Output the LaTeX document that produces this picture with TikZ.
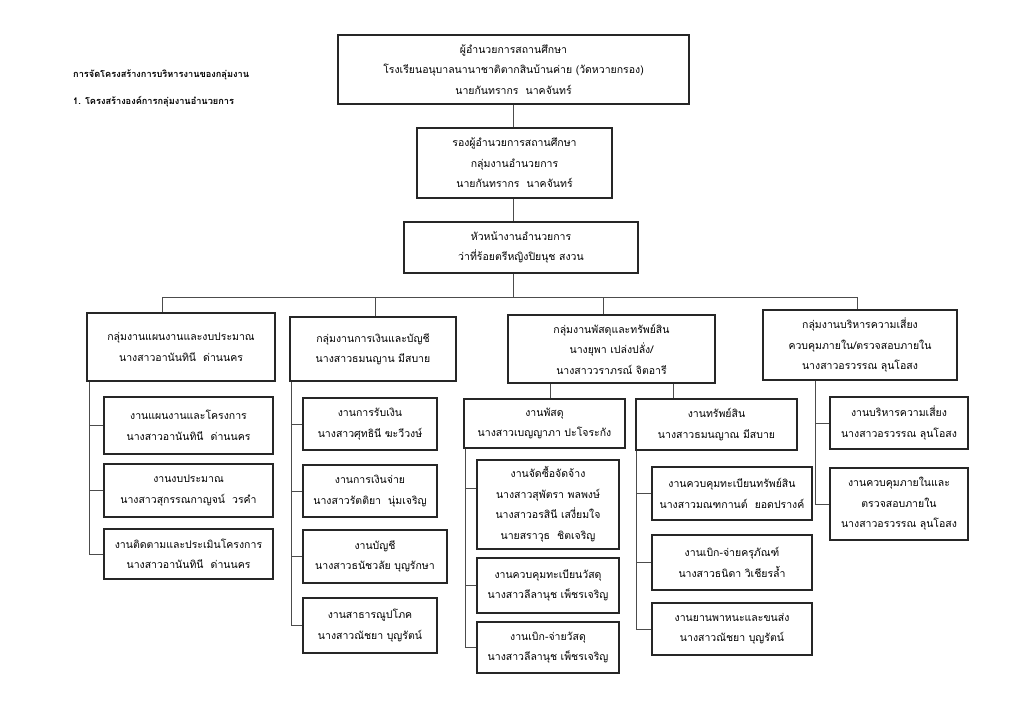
\documentclass[tikz,border=0pt]{standalone}
\usepackage{fontspec}
\newfontfamily\thai[Script=Thai]{Loma}
\begin{document}
\begin{tikzpicture}[x=1pt,y=-1pt,
  box/.style={draw=black!85, line width=1.1pt, inner sep=0pt, align=center,
    font=\thai\fontsize{10.5}{20.5}\selectfont},
  conn/.style={draw=black!70, line width=0.6pt},
  ttl/.style={anchor=west, inner sep=0pt, font=\thai\bfseries\fontsize{9.2}{11}\selectfont}]
\useasboundingbox[fill=white] (0,0) rectangle (1024,724);
% titles
\node[ttl] (t1) at (73,75) {การจัดโครงสร้างการบริหารงานของกลุ่มงาน};
\node[ttl] (t2) at (73,102) {1. โครงสร้างองค์การกลุ่มงานอำนวยการ};
% top levels
\node[box, minimum width=351, minimum height=69] (top) at (513.5,69.5)
  {ผู้อำนวยการสถานศึกษา\\โรงเรียนอนุบาลนานาชาติตากสินบ้านค่าย (วัดหวายกรอง)\\นายกันทรากร\ \ นาคจันทร์};
\node[box, minimum width=195, minimum height=70] (vice) at (514.5,163)
  {รองผู้อำนวยการสถานศึกษา\\กลุ่มงานอำนวยการ\\นายกันทรากร\ \ นาคจันทร์};
\node[box, minimum width=234, minimum height=51] (dir) at (521,247.5)
  {หัวหน้างานอำนวยการ\\ว่าที่ร้อยตรีหญิงปิยนุช สงวน};
% groups
\node[box, minimum width=188, minimum height=68] (g1) at (181,347)
  {กลุ่มงานแผนงานและงบประมาณ\\นางสาวอานันทินี\ \ ด่านนคร};
\node[box, minimum width=166, minimum height=64] (g2) at (373,349)
  {กลุ่มงานการเงินและบัญชี\\นางสาวธมนญาน มีสบาย};
\node[box, minimum width=207, minimum height=68] (g3) at (611.5,349)
  {กลุ่มงานพัสดุและทรัพย์สิน\\นางยุพา เปล่งปลั่ง/\\นางสาววราภรณ์ จิตอารี};
\node[box, minimum width=194, minimum height=70] (g4) at (860,345)
  {กลุ่มงานบริหารความเสี่ยง\\ควบคุมภายใน/ตรวจสอบภายใน\\นางสาวอรวรรณ ลุนโอสง};
% G1 subs
\node[box, minimum width=169, minimum height=57] (s11) at (188.5,425.5)
  {งานแผนงานและโครงการ\\นางสาวอานันทินี\ \ ด่านนคร};
\node[box, minimum width=169, minimum height=53] (s12) at (188.5,490.5)
  {งานงบประมาณ\\นางสาวสุกรรณกาญจน์\ \ วรคำ};
\node[box, minimum width=169, minimum height=50] (s13) at (188.5,554)
  {งานติดตามและประเมินโครงการ\\นางสาวอานันทินี\ \ ด่านนคร};
% G2 subs
\node[box, minimum width=134, minimum height=52] (s21) at (370,424)
  {งานการรับเงิน\\นางสาวศุทธินี ฆะวีวงษ์};
\node[box, minimum width=134, minimum height=52] (s22) at (370,491)
  {งานการเงินจ่าย\\นางสาวรัตติยา\ \ นุ่มเจริญ};
\node[box, minimum width=144, minimum height=53] (s23) at (375,556.5)
  {งานบัญชี\\นางสาวธนัชวลัย บุญรักษา};
\node[box, minimum width=134, minimum height=55] (s24) at (370,625.5)
  {งานสาธารณูปโภค\\นางสาวณัชยา บุญรัตน์};
% G3 left
\node[box, minimum width=161, minimum height=49] (p0) at (544.5,423.5)
  {งานพัสดุ\\นางสาวเบญญาภา ปะโจระกัง};
\node[box, minimum width=142, minimum height=89] (p1) at (548,504.5)
  {งานจัดซื้อจัดจ้าง\\นางสาวสุพัตรา พลพงษ์\\นางสาวอรสินี เสงี่ยมใจ\\นายสราวุธ\ \ ชิตเจริญ};
\node[box, minimum width=142, minimum height=55] (p2) at (548,585.5)
  {งานควบคุมทะเบียนวัสดุ\\นางสาวลีลานุช เพ็ชรเจริญ};
\node[box, minimum width=142, minimum height=51] (p3) at (548,647.5)
  {งานเบิก-จ่ายวัสดุ\\นางสาวลีลานุช เพ็ชรเจริญ};
% G3 right
\node[box, minimum width=161, minimum height=51] (q0) at (716.5,424.5)
  {งานทรัพย์สิน\\นางสาวธมนญาณ มีสบาย};
\node[box, minimum width=160, minimum height=53] (q1) at (732,493.5)
  {งานควบคุมทะเบียนทรัพย์สิน\\นางสาวมณฑกานต์\ \ ยอดปรางค์};
\node[box, minimum width=160, minimum height=55] (q2) at (732,562.5)
  {งานเบิก-จ่ายครุภัณฑ์\\นางสาวธนิดา วิเชียรล้ำ};
\node[box, minimum width=160, minimum height=52] (q3) at (732,629)
  {งานยานพาหนะและขนส่ง\\นางสาวณัชยา บุญรัตน์};
% G4 subs
\node[box, minimum width=138, minimum height=52] (r1) at (899,423)
  {งานบริหารความเสี่ยง\\นางสาวอรวรรณ ลุนโอสง};
\node[box, minimum width=138, minimum height=72] (r2) at (899,504)
  {งานควบคุมภายในและ\\ตรวจสอบภายใน\\นางสาวอรวรรณ ลุนโอสง};
% connectors top
\coordinate (bus) at (513,297);
\coordinate (b1) at (162,297);
\coordinate (b2) at (375,297);
\coordinate (b3) at (603,297);
\coordinate (b4) at (857,297);
\draw[conn] (top.south -| bus) -- (vice.north -| bus);
\draw[conn] (vice.south -| bus) -- (dir.north -| bus);
\draw[conn] (dir.south -| bus) -- (bus);
\draw[conn] (b1) -- (b4);
\draw[conn] (b1) -- (b1 |- g1.north);
\draw[conn] (b2) -- (b2 |- g2.north);
\draw[conn] (b3) -- (b3 |- g3.north);
\draw[conn] (b4) -- (b4 |- g4.north);
% G1 branch
\coordinate (v1) at (89,550);
\draw[conn] (v1 |- g1.south) -- (v1 |- s13.west);
\foreach \n in {s11,s12,s13} \draw[conn] (v1 |- \n.west) -- (\n.west);
% G2 branch
\coordinate (v2) at (291,623);
\draw[conn] (v2 |- g2.south) -- (v2 |- s24.west);
\foreach \n in {s21,s22,s23,s24} \draw[conn] (v2 |- \n.west) -- (\n.west);
% G3 branches
\coordinate (v3a) at (550,390);
\coordinate (v3b) at (673,390);
\draw[conn] (v3a |- g3.south) -- (v3a |- p0.north);
\draw[conn] (v3b |- g3.south) -- (v3b |- q0.north);
\coordinate (v4) at (465,645);
\draw[conn] (v4 |- p0.south) -- (v4 |- p3.west);
\draw[conn] (v4 |- p1.west) ++(0,-16) coordinate (p1t) -- ([yshift=16pt]p1.west);
\foreach \n in {p2,p3} \draw[conn] (v4 |- \n.west) -- (\n.west);
\coordinate (v5) at (636,625);
\draw[conn] (v5 |- q0.south) -- (v5 |- q3.west);
\foreach \n in {q1,q2,q3} \draw[conn] (v5 |- \n.west) -- (\n.west);
% G4 branch
\coordinate (v6) at (815,502);
\draw[conn] (v6 |- g4.south) -- (v6 |- r2.west);
\foreach \n in {r1,r2} \draw[conn] (v6 |- \n.west) -- (\n.west);
\end{tikzpicture}
\end{document}
